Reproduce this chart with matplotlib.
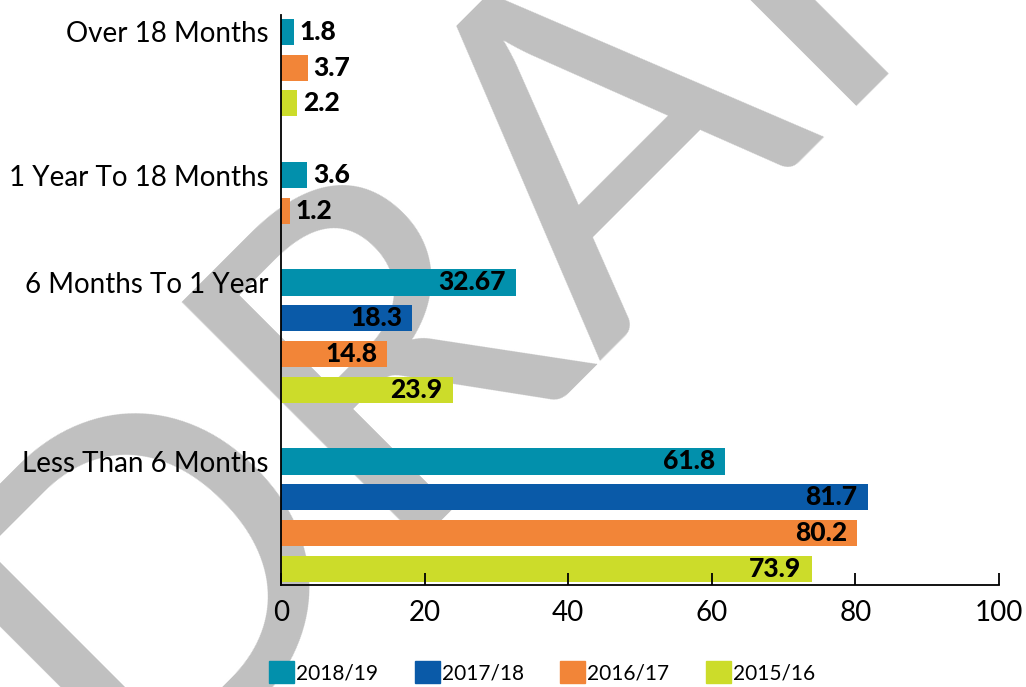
import matplotlib.pyplot as plt
from matplotlib.patches import Patch

plt.rcParams["font.family"] = ["Lato", "DejaVu Sans"]

categories = ["Over 18 Months", "1 Year To 18 Months", "6 Months To 1 Year", "Less Than 6 Months"]
series = ["2018/19", "2017/18", "2016/17", "2015/16"]
colors = ["#0290ac", "#0a5aa8", "#f28538", "#ccdc2a"]
# None = no bar shown for that period
val_1819 = [1.8, 3.6, 32.67, 61.8]
val_1718 = [None, None, 18.3, 81.7]
val_1617 = [3.7, 1.2, 14.8, 80.2]
val_1516 = [2.2, None, 23.9, 73.9]
values = [val_1819, val_1718, val_1617, val_1516]
xticks = [0, 20, 40, 60, 80, 100]

fig = plt.figure(figsize=(10.26, 6.87), dpi=100)
ax = fig.add_axes([0.2739, 0.1485, 0.6998, 0.8297])
ax.patch.set_alpha(0)

# watermark behind the chart
fig.text(0.553, 0.765, "DRAFT", fontsize=340, color="#c0c0c0", rotation=45,
         rotation_mode="anchor", ha="center", va="center", zorder=-1)

row = 0
label_rows = []
for i, cat in enumerate(categories):
    label_rows.append(row)
    for j in range(len(series)):
        v = values[j][i]
        if v is None:
            continue
        ax.barh(row, v, height=0.73, color=colors[j])
        if v > 10:
            ax.annotate(str(v), (v, row), xytext=(-10, 0), textcoords="offset pixels",
                        ha="right", va="center", fontsize=19, fontweight="black")
        else:
            ax.annotate(str(v), (v, row), xytext=(6, 0), textcoords="offset pixels",
                        ha="left", va="center", fontsize=19, fontweight="black")
        row += 1
    row += 1

ax.set_ylim(row - 1 - 0.55, -0.47)
ax.set_xlim(0, 100)
ax.set_yticks(label_rows)
ax.set_yticklabels(categories, fontsize=20)
ax.set_xticks(xticks)
ax.set_xticklabels([str(t) for t in xticks], fontsize=20)
ax.tick_params(axis="y", length=0, pad=9)
ax.tick_params(axis="x", direction="in", length=8.6, width=1.3, pad=11)

for s in ["top", "right"]:
    ax.spines[s].set_visible(False)
for s in ["left", "bottom"]:
    ax.spines[s].set_linewidth(1.3)

handles = [Patch(color=c) for c in colors]
ax.legend(handles, series, loc="lower left", bbox_to_anchor=(269 / 1026, 4 / 687),
          bbox_transform=fig.transFigure, ncol=4, frameon=False, fontsize=15,
          handlelength=1.2, handleheight=1.2, handletextpad=0.1, columnspacing=1.75,
          borderpad=0, borderaxespad=0)

fig.savefig("out.png", dpi=100)
